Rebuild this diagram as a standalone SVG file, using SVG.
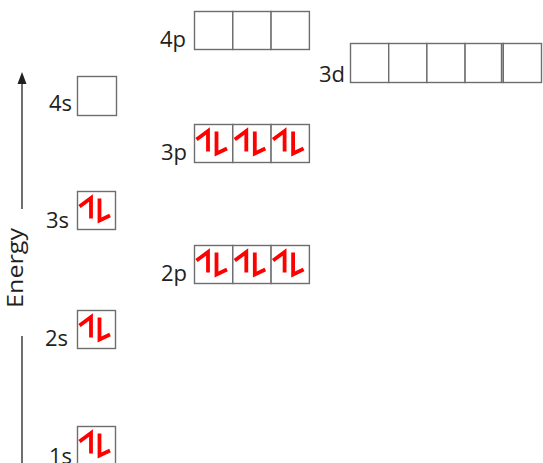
<svg xmlns="http://www.w3.org/2000/svg" width="543" height="463" viewBox="0 0 543 463">
<style>
.box{fill:#fff;stroke:#6d6d6d;stroke-width:1.4}
.lbl{font-family:"Open Sans","Liberation Sans",sans-serif;font-size:22px;fill:#231f20;text-anchor:end}
.e{stroke:#ff0000;stroke-width:3.8;fill:none;stroke-linecap:butt;stroke-linejoin:miter}
.axis{stroke:#231f20;stroke-width:1.3;fill:none}
</style>
<defs>
<g id="pair">
<path class="e" d="M2,15 L13.5,6.5 L13.5,27"/>
<path class="e" d="M22,7 L22,29 L32.5,24"/>
</g>
</defs>
<g id="axis">
<line class="axis" x1="22" y1="209" x2="22" y2="82"/>
<polygon points="22,72 26.5,84 17.5,84" fill="#231f20"/>
<line class="axis" x1="22" y1="336" x2="22" y2="463"/>
<text class="lbl" style="text-anchor:middle" transform="translate(23,268) rotate(-90)" textLength="80" lengthAdjust="spacingAndGlyphs">Energy</text>
</g>
<g id="s1">
<text class="lbl" x="72" y="464">1s</text>
<rect class="box" x="77.5" y="426.5" width="38" height="38"/>
<use href="#pair" x="77.5" y="426.5"/>
</g>
<g id="s2">
<text class="lbl" x="68" y="346">2s</text>
<rect class="box" x="77.5" y="310.5" width="38" height="38"/>
<use href="#pair" x="77.5" y="310.5"/>
</g>
<g id="s3">
<text class="lbl" x="69" y="228">3s</text>
<rect class="box" x="77.5" y="191.5" width="38" height="38"/>
<use href="#pair" x="77.5" y="191.5"/>
</g>
<g id="s4">
<text class="lbl" x="72" y="111">4s</text>
<rect class="box" x="77.5" y="76.5" width="39" height="39"/>
</g>
<g id="p2">
<text class="lbl" x="187" y="281">2p</text>
<rect class="box" x="194.5" y="245.5" width="38.3" height="38"/>
<rect class="box" x="232.8" y="245.5" width="38.3" height="38"/>
<rect class="box" x="271.1" y="245.5" width="38.3" height="38"/>
<use href="#pair" x="194.5" y="245.5"/>
<use href="#pair" x="232.8" y="245.5"/>
<use href="#pair" x="271.1" y="245.5"/>
</g>
<g id="p3">
<text class="lbl" x="187" y="160">3p</text>
<rect class="box" x="194.5" y="124.5" width="38.3" height="38"/>
<rect class="box" x="232.8" y="124.5" width="38.3" height="38"/>
<rect class="box" x="271.1" y="124.5" width="38.3" height="38"/>
<use href="#pair" x="194.5" y="124.5"/>
<use href="#pair" x="232.8" y="124.5"/>
<use href="#pair" x="271.1" y="124.5"/>
</g>
<g id="p4">
<text class="lbl" x="186" y="47">4p</text>
<rect class="box" x="194.5" y="11.5" width="38.3" height="38"/>
<rect class="box" x="232.8" y="11.5" width="38.3" height="38"/>
<rect class="box" x="271.1" y="11.5" width="38.3" height="38"/>
</g>
<g id="d3">
<text class="lbl" x="345" y="82">3d</text>
<rect class="box" x="350.5" y="43.5" width="38.2" height="39"/>
<rect class="box" x="388.7" y="43.5" width="38.2" height="39"/>
<rect class="box" x="426.9" y="43.5" width="38.2" height="39"/>
<rect class="box" x="465.1" y="43.5" width="38.2" height="39"/>
<rect class="box" x="503.3" y="43.5" width="38.2" height="39"/>
<line class="box" x1="501.5" y1="43.5" x2="501.5" y2="82.5"/>
</g>
</svg>
